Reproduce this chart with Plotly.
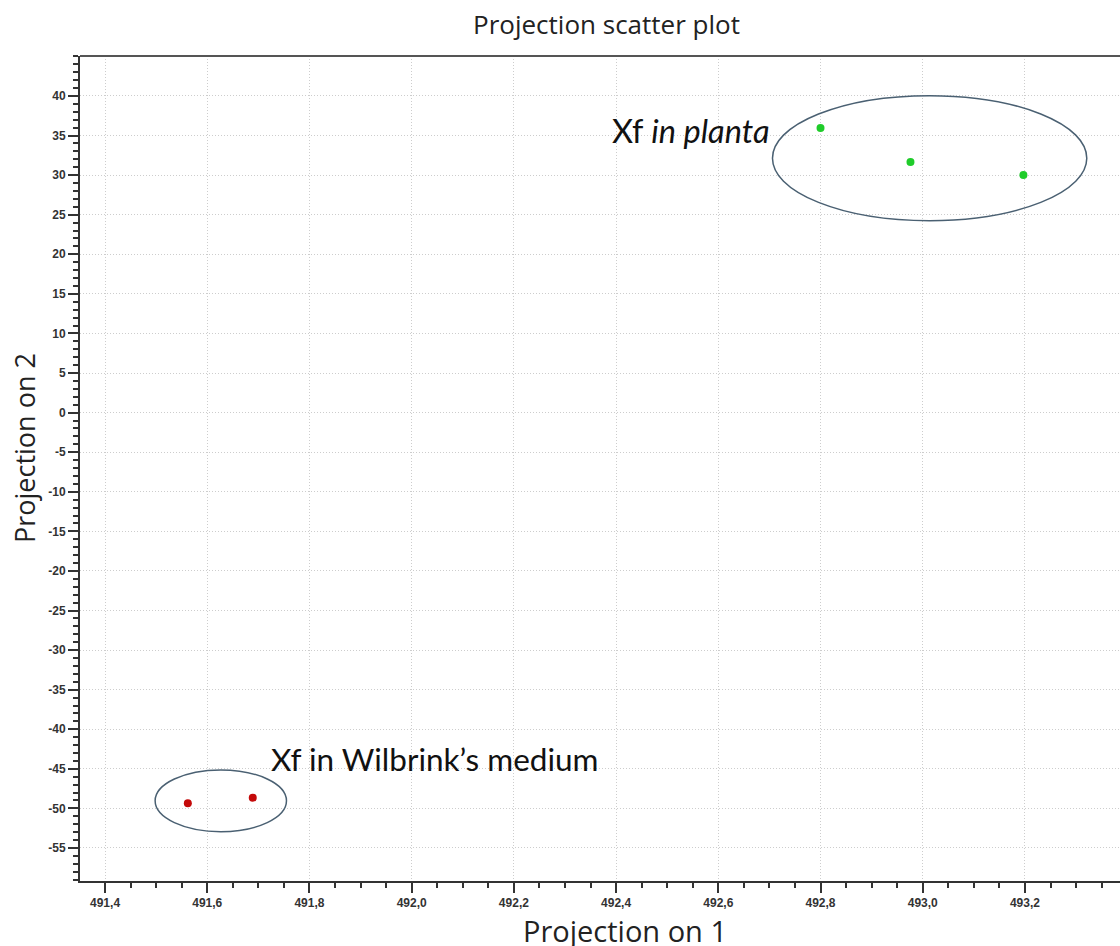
import plotly.graph_objects as go

# Data
planta_x = [492.80, 492.976, 493.197]
planta_y = [35.96, 31.66, 30.02]
wil_x = [491.562, 491.689]
wil_y = [-49.35, -48.64]

x_ticks = [491.4, 491.6, 491.8, 492.0, 492.2, 492.4, 492.6, 492.8, 493.0, 493.2]
x_ticklabels = ["491,4", "491,6", "491,8", "492,0", "492,2", "492,4", "492,6", "492,8", "493,0", "493,2"]
y_ticks = list(range(-55, 41, 5))
y_ticklabels = [str(v) for v in y_ticks]

# Ellipse extents (data coordinates)
ell_planta = dict(x0=492.706, x1=493.321, y0=24.25, y1=40.04)
ell_wil = dict(x0=491.498, x1=491.755, y0=-52.94, y1=-45.14)

W, H = 1120, 946
ML, MR, MT, MB = 80, 0, 56, 65
plot_w = W - ML - MR
plot_h = H - MT - MB

fig = go.Figure()
fig.add_trace(go.Scatter(x=planta_x, y=planta_y, mode="markers",
                         marker=dict(color="#1fcc2a", size=8), showlegend=False))
fig.add_trace(go.Scatter(x=wil_x, y=wil_y, mode="markers",
                         marker=dict(color="#c40a0a", size=8), showlegend=False))

ell_line = dict(color="#4a6072", width=1.5)
fig.add_shape(type="circle", xref="x", yref="y", line=ell_line, **ell_planta)
fig.add_shape(type="circle", xref="x", yref="y", line=ell_line, **ell_wil)
# top border
fig.add_shape(type="line", xref="paper", yref="paper", x0=0, x1=1, y0=1, y1=1,
              line=dict(color="#555555", width=2))

tickfont = dict(family="Liberation Sans, Arial", size=12, color="#333333", weight="bold")
grid_kw = dict(showgrid=True, gridcolor="#cdcdcd", griddash="1px,2px", gridwidth=1)

fig.update_xaxes(range=[491.351, 493.386], tickvals=x_ticks, ticktext=x_ticklabels,
                 showline=True, linecolor="#333333", linewidth=2,
                 ticks="outside", ticklen=10, tickwidth=2, tickcolor="#333333",
                 tickfont=tickfont, zeroline=False, **grid_kw,
                 minor=dict(dtick=0.05, tick0=491.4, ticks="outside", ticklen=5,
                            tickwidth=2, tickcolor="#333333", showgrid=False))
fig.update_yaxes(range=[-59.17, 45.05], tickvals=y_ticks, ticktext=y_ticklabels,
                 showline=True, linecolor="#333333", linewidth=2,
                 ticks="outside", ticklen=10, tickwidth=2, tickcolor="#333333",
                 tickfont=tickfont, zeroline=False, **grid_kw,
                 minor=dict(dtick=1, tick0=0, ticks="outside", ticklen=5,
                            tickwidth=2, tickcolor="#333333", showgrid=False))

fam = "Lato, Carlito, Calibri, sans-serif"
fig.add_annotation(x=492.706, y=35.7, xref="x", yref="y", xanchor="right", yanchor="middle",
                   text="Xf <i>in planta</i>", showarrow=False,
                   font=dict(family=fam, size=32.5, color="#111111"))
fig.add_annotation(x=491.7217, y=-43.75, xref="x", yref="y", xanchor="left", yanchor="middle",
                   text="Xf in Wilbrink\u2019s medium", showarrow=False,
                   font=dict(family=fam, size=31.5, color="#111111"))

fig.add_annotation(x=(625 - ML) / plot_w, y=-(930 - (H - MB)) / plot_h, xref="paper", yref="paper",
                   xanchor="center", yanchor="middle", text="Projection on 1",
                   showarrow=False,
                   font=dict(family="Open Sans, Noto Sans, sans-serif", size=29, color="#222222"))
fig.add_annotation(x=-(ML - 25) / plot_w, y=1 - (448 - MT) / plot_h, xref="paper", yref="paper",
                   xanchor="center", yanchor="middle", text="Projection on 2", textangle=-90,
                   showarrow=False,
                   font=dict(family="Open Sans, Noto Sans, sans-serif", size=27, color="#222222"))

fig.update_layout(
    width=W, height=H,
    margin=dict(l=ML, r=MR, t=MT, b=MB),
    paper_bgcolor="white", plot_bgcolor="white",
    title=dict(text="Projection scatter plot", x=606.5 / W, xanchor="center",
               y=1 - 25 / H, yanchor="middle", yref="container",
               font=dict(family="Open Sans, Noto Sans, sans-serif", size=26, color="#222222")),
)

fig.write_html("out.html", config={"displayModeBar": False},
               post_script="document.body.style.margin='0';")
